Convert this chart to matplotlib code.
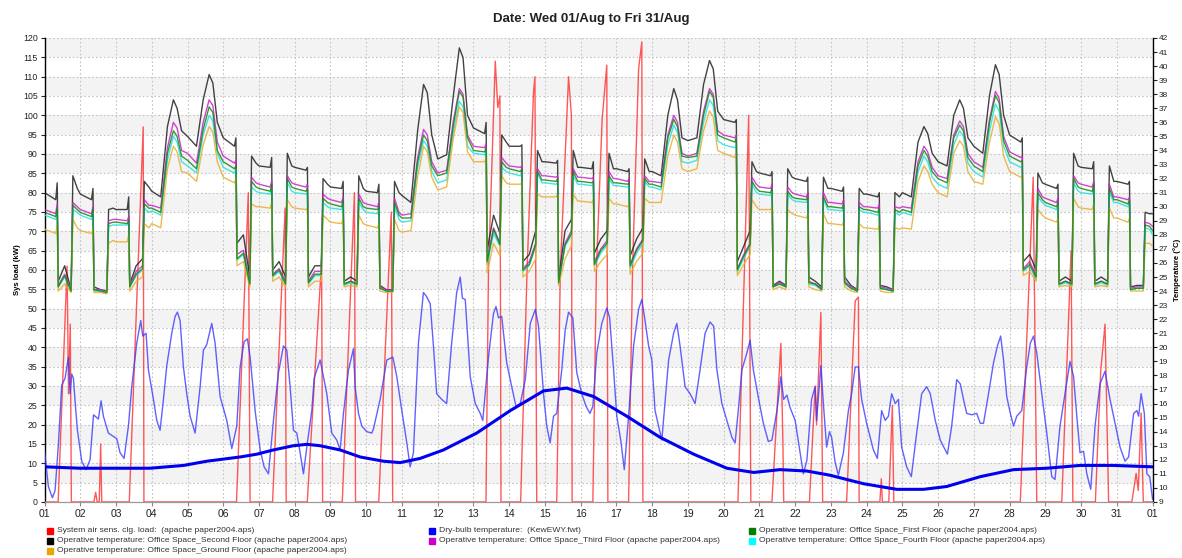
import matplotlib
matplotlib.use("Agg")
import matplotlib.pyplot as plt
from matplotlib.lines import Line2D

plt.rcParams['font.family'] = ['Liberation Sans', 'DejaVu Sans']

# ---- data ----
DAYS = ['%02d' % d for d in range(1, 32)] + ['01']
OFF_DAYS = [4, 5, 11, 12, 18, 19, 25, 26, 27]          # no cooling (weekend / bank holiday)
WEEKDAY_HOURS = [0, 7.5, 8.5, 9.2, 13.5, 17.8, 19, 22]
OFFDAY_HOURS = [0, 6, 10.5, 14.5, 17, 20]

# operative temperatures, deg C, one row per day
second_floor = [
    [31.0, 30.5, 31.7, 24.7, 25.8, 24.1, 32.2, 31.3],
    [30.9, 30.5, 31.3, 24.3, 24.1, 24.0, 29.8, 29.9],
    [29.8, 29.8, 30.7, 24.5, 25.8, 26.3, 31.8, 31.4],
    [31.1, 30.7, 35.7, 37.6, 37.0, 35.4],
    [35.0, 34.3, 37.6, 39.4, 38.8, 36.0],
    [34.9, 34.3, 34.9, 27.4, 28.0, 25.0, 33.6, 33.1],
    [32.9, 32.8, 33.5, 25.5, 26.1, 25.0, 33.8, 32.9],
    [32.8, 32.6, 32.8, 25.0, 25.8, 25.8, 32.0, 31.6],
    [31.4, 31.3, 31.8, 24.7, 25.0, 24.7, 32.2, 31.3],
    [31.1, 31.0, 31.6, 24.4, 24.1, 24.1, 31.8, 31.0],
    [30.8, 30.3, 35.4, 38.7, 38.1, 35.1],
    [33.4, 33.7, 37.9, 41.3, 40.6, 36.5],
    [35.6, 35.2, 36.0, 26.9, 29.4, 28.1, 35.1, 34.6],
    [34.3, 34.3, 34.4, 26.1, 26.6, 28.3, 34.0, 33.2],
    [33.2, 33.1, 33.3, 24.8, 28.3, 29.1, 34.0, 32.8],
    [32.8, 32.7, 33.2, 26.7, 27.7, 28.3, 33.8, 32.7],
    [32.7, 32.5, 32.7, 26.5, 27.7, 28.5, 33.4, 32.5],
    [32.5, 32.2, 36.5, 38.4, 37.6, 34.9],
    [34.7, 34.9, 38.7, 40.4, 39.8, 36.8],
    [36.2, 36.0, 36.2, 26.1, 27.2, 28.3, 33.2, 32.5],
    [32.4, 32.2, 32.5, 24.4, 24.7, 24.4, 32.7, 32.1],
    [32.0, 31.8, 32.1, 25.0, 24.7, 24.3, 32.1, 31.3],
    [31.3, 31.1, 31.4, 25.0, 24.4, 24.1, 31.3, 30.9],
    [30.9, 30.7, 31.0, 24.4, 24.3, 24.1, 31.0, 30.7],
    [31.0, 30.7, 34.6, 35.7, 35.2, 33.8],
    [33.2, 32.9, 36.5, 37.6, 37.0, 34.9],
    [34.3, 33.8, 37.9, 40.1, 39.4, 36.5],
    [35.1, 34.6, 34.9, 26.1, 26.6, 25.5, 32.4, 31.7],
    [31.6, 31.3, 31.6, 24.7, 25.0, 24.7, 33.8, 32.9],
    [32.8, 32.7, 33.2, 24.7, 25.0, 24.7, 32.9, 31.8],
    [31.8, 31.6, 31.8, 24.3, 24.4, 24.4, 29.6, 29.5],
    [29.5],
]
third_floor = [
    [29.8, 29.5, 30.2, 24.4, 25.2, 24.1, 30.3, 30.0],
    [29.8, 29.5, 30.0, 24.1, 24.1, 24.0, 29.0, 29.1],
    [29.1, 29.0, 29.3, 24.4, 25.4, 25.8, 30.5, 30.1],
    [30.1, 29.9, 34.2, 36.0, 35.6, 34.0],
    [33.8, 33.1, 36.0, 37.6, 37.2, 34.6],
    [33.6, 33.1, 33.3, 26.6, 26.9, 24.7, 32.1, 31.7],
    [31.6, 31.4, 31.8, 25.2, 25.6, 24.7, 32.2, 31.7],
    [31.6, 31.4, 31.6, 24.7, 25.4, 25.4, 30.9, 30.6],
    [30.5, 30.3, 30.7, 24.5, 24.7, 24.5, 30.9, 30.3],
    [30.2, 30.0, 30.3, 24.3, 24.1, 24.1, 30.6, 29.6],
    [29.4, 29.5, 33.5, 35.5, 35.1, 33.2],
    [32.4, 32.6, 36.1, 38.4, 38.0, 35.1],
    [34.3, 34.2, 34.5, 26.2, 28.5, 27.4, 33.5, 33.1],
    [32.9, 32.8, 32.9, 25.6, 26.1, 27.4, 32.7, 32.2],
    [32.2, 32.1, 32.2, 24.7, 27.4, 28.3, 32.7, 32.1],
    [32.1, 32.0, 32.1, 26.1, 27.0, 27.6, 32.5, 32.0],
    [32.0, 31.8, 32.0, 25.9, 27.0, 27.7, 32.2, 31.8],
    [31.8, 31.7, 35.1, 36.5, 36.0, 33.8],
    [33.6, 33.8, 36.8, 38.4, 38.0, 35.4],
    [35.1, 34.9, 35.1, 25.6, 26.6, 27.4, 32.1, 31.6],
    [31.4, 31.3, 31.6, 24.3, 24.6, 24.3, 31.4, 31.0],
    [30.9, 30.7, 31.0, 24.7, 24.5, 24.2, 31.0, 30.3],
    [30.3, 30.2, 30.5, 24.7, 24.3, 24.1, 30.3, 30.0],
    [30.0, 29.9, 30.2, 24.3, 24.2, 24.1, 30.0, 29.9],
    [30.0, 29.9, 33.2, 34.3, 33.9, 32.8],
    [32.2, 32.0, 35.1, 36.1, 35.7, 33.8],
    [33.2, 32.8, 36.2, 38.2, 37.7, 35.0],
    [33.9, 33.5, 33.6, 25.6, 26.1, 25.1, 31.3, 30.7],
    [30.6, 30.3, 30.6, 24.5, 24.7, 24.5, 32.2, 31.7],
    [31.6, 31.4, 31.8, 24.5, 24.7, 24.5, 31.6, 30.7],
    [30.7, 30.5, 30.7, 24.2, 24.3, 24.3, 28.9, 28.8],
    [28.6],
]
first_floor = [
    [29.6, 29.3, 29.9, 24.3, 25.1, 24.0, 30.1, 29.8],
    [29.6, 29.3, 29.8, 24.1, 24.0, 23.9, 28.8, 28.9],
    [28.9, 28.8, 29.0, 24.3, 25.2, 25.6, 30.2, 29.9],
    [29.9, 29.6, 33.8, 35.4, 35.0, 33.6],
    [33.3, 32.7, 35.5, 37.1, 36.7, 34.0],
    [33.2, 32.7, 32.9, 26.3, 26.7, 24.5, 31.8, 31.4],
    [31.3, 31.1, 31.6, 25.1, 25.5, 24.5, 32.0, 31.4],
    [31.3, 31.1, 31.3, 24.6, 25.2, 25.2, 30.6, 30.3],
    [30.2, 30.0, 30.5, 24.5, 24.7, 24.5, 30.6, 30.0],
    [29.9, 29.8, 30.0, 24.2, 24.0, 24.0, 30.3, 29.4],
    [29.2, 29.2, 33.2, 35.1, 34.7, 32.9],
    [32.2, 32.4, 35.8, 38.2, 37.8, 34.9],
    [34.0, 33.9, 34.2, 26.1, 28.4, 27.3, 33.2, 32.8],
    [32.7, 32.5, 32.7, 25.5, 25.9, 27.3, 32.5, 31.9],
    [31.9, 31.8, 32.0, 24.6, 27.3, 28.1, 32.5, 31.8],
    [31.8, 31.7, 31.8, 25.9, 26.9, 27.4, 32.2, 31.7],
    [31.7, 31.6, 31.7, 25.8, 26.9, 27.6, 32.0, 31.6],
    [31.6, 31.4, 34.9, 36.2, 35.7, 33.6],
    [33.5, 33.6, 36.5, 38.2, 37.8, 35.1],
    [34.9, 34.6, 34.9, 25.5, 26.5, 27.3, 31.8, 31.3],
    [31.1, 31.0, 31.3, 24.3, 24.5, 24.3, 31.1, 30.7],
    [30.6, 30.5, 30.7, 24.6, 24.5, 24.1, 30.7, 30.0],
    [30.0, 29.9, 30.2, 24.6, 24.2, 24.0, 30.0, 29.8],
    [29.8, 29.6, 29.9, 24.2, 24.1, 24.0, 29.8, 29.6],
    [29.8, 29.6, 32.9, 34.0, 33.6, 32.5],
    [32.0, 31.7, 34.9, 35.8, 35.4, 33.5],
    [32.9, 32.5, 36.0, 37.9, 37.4, 34.7],
    [33.6, 33.2, 33.3, 25.5, 25.9, 25.0, 31.0, 30.5],
    [30.3, 30.0, 30.3, 24.5, 24.7, 24.5, 32.0, 31.4],
    [31.3, 31.1, 31.6, 24.5, 24.7, 24.5, 31.3, 30.5],
    [30.5, 30.2, 30.5, 24.1, 24.2, 24.2, 28.7, 28.6],
    [28.3],
]
fourth_floor = [
    [29.4, 29.1, 29.6, 24.3, 25.0, 24.0, 29.8, 29.6],
    [29.4, 29.1, 29.6, 24.0, 24.0, 23.9, 28.6, 28.7],
    [28.7, 28.7, 28.9, 24.3, 25.1, 25.5, 29.9, 29.6],
    [29.7, 29.4, 33.3, 35.0, 34.6, 33.2],
    [32.9, 32.4, 35.1, 36.5, 36.1, 33.8],
    [32.8, 32.4, 32.7, 26.2, 26.6, 24.5, 31.4, 31.1],
    [31.0, 30.9, 31.3, 25.0, 25.4, 24.5, 31.7, 31.1],
    [31.0, 30.9, 31.0, 24.5, 25.1, 25.1, 30.3, 30.0],
    [29.9, 29.8, 30.2, 24.4, 24.6, 24.4, 30.3, 29.8],
    [29.6, 29.5, 29.8, 24.2, 24.0, 24.0, 30.0, 29.1],
    [28.9, 29.0, 32.8, 34.7, 34.3, 32.5],
    [31.7, 31.9, 35.3, 37.5, 37.1, 34.3],
    [33.8, 33.7, 34.0, 25.9, 28.1, 27.2, 32.8, 32.5],
    [32.4, 32.2, 32.4, 25.4, 25.8, 27.2, 32.4, 31.7],
    [31.7, 31.6, 31.7, 24.5, 27.2, 28.0, 32.2, 31.6],
    [31.6, 31.5, 31.6, 25.8, 26.7, 27.3, 32.0, 31.5],
    [31.5, 31.4, 31.5, 25.6, 26.7, 27.4, 31.8, 31.4],
    [31.4, 31.2, 34.4, 35.8, 35.3, 33.2],
    [33.1, 33.3, 36.0, 37.6, 37.2, 34.7],
    [34.4, 34.2, 34.4, 25.4, 26.3, 27.2, 31.6, 31.0],
    [30.9, 30.8, 31.1, 24.3, 24.5, 24.3, 30.9, 30.5],
    [30.4, 30.3, 30.5, 24.5, 24.4, 24.1, 30.5, 29.8],
    [29.8, 29.7, 30.0, 24.5, 24.2, 24.0, 29.8, 29.6],
    [29.6, 29.4, 29.7, 24.2, 24.1, 24.0, 29.6, 29.4],
    [29.6, 29.4, 32.5, 33.6, 33.2, 32.1],
    [31.6, 31.3, 34.4, 35.4, 35.0, 33.1],
    [32.5, 32.1, 35.4, 37.3, 36.8, 34.3],
    [33.2, 32.8, 32.9, 25.4, 25.8, 24.8, 30.7, 30.3],
    [30.1, 29.8, 30.1, 24.4, 24.6, 24.4, 31.7, 31.1],
    [31.0, 30.9, 31.3, 24.4, 24.6, 24.4, 31.0, 30.3],
    [30.3, 30.0, 30.3, 24.1, 24.2, 24.2, 28.5, 28.4],
    [28.0],
]
ground_floor = [
    [28.4, 28.1, 28.7, 24.0, 24.5, 23.9, 29.1, 28.5],
    [28.3, 28.1, 28.4, 23.9, 23.9, 23.8, 27.4, 27.6],
    [27.5, 27.5, 28.0, 24.0, 24.7, 25.0, 28.8, 28.5],
    [28.8, 28.5, 32.7, 34.3, 33.9, 32.5],
    [32.4, 31.8, 34.4, 35.7, 35.3, 33.2],
    [32.1, 31.7, 32.0, 25.8, 26.1, 24.3, 30.2, 30.0],
    [30.0, 29.9, 30.3, 24.7, 25.0, 24.3, 30.5, 30.0],
    [29.9, 29.8, 29.9, 24.3, 24.7, 24.7, 29.4, 29.1],
    [28.9, 28.8, 29.2, 24.3, 24.4, 24.3, 29.4, 28.8],
    [28.7, 28.5, 28.8, 24.0, 23.9, 23.9, 29.1, 28.3],
    [28.2, 28.3, 32.1, 34.3, 33.9, 32.1],
    [31.2, 31.4, 34.9, 37.1, 36.7, 33.9],
    [33.2, 33.2, 33.5, 25.3, 27.4, 26.5, 32.2, 31.7],
    [31.6, 31.6, 31.7, 25.0, 25.4, 26.3, 30.9, 30.7],
    [30.7, 30.7, 30.9, 24.4, 26.3, 27.2, 30.9, 30.4],
    [30.4, 30.3, 30.5, 25.4, 26.1, 26.6, 30.6, 30.2],
    [30.2, 30.0, 30.2, 25.2, 26.1, 26.7, 30.6, 30.3],
    [30.3, 30.3, 33.6, 35.1, 34.6, 32.7],
    [32.5, 32.7, 35.4, 36.8, 36.4, 34.0],
    [33.8, 33.5, 33.8, 25.1, 25.9, 26.6, 30.5, 30.0],
    [29.8, 29.8, 30.0, 24.1, 24.3, 24.1, 29.8, 29.5],
    [29.4, 29.2, 29.5, 24.3, 24.1, 24.0, 29.5, 28.8],
    [28.8, 28.7, 28.9, 24.3, 24.0, 23.9, 28.8, 28.5],
    [28.5, 28.4, 28.7, 24.0, 23.9, 23.9, 28.5, 28.4],
    [28.5, 28.4, 31.8, 32.9, 32.5, 31.6],
    [31.0, 30.7, 33.8, 34.7, 34.3, 32.5],
    [31.8, 31.6, 34.6, 36.4, 35.9, 33.6],
    [32.5, 32.1, 32.2, 25.1, 25.4, 24.7, 29.8, 29.4],
    [29.2, 28.9, 29.2, 24.3, 24.4, 24.3, 30.6, 30.0],
    [29.9, 29.8, 30.2, 24.3, 24.4, 24.3, 29.9, 29.2],
    [29.2, 28.9, 29.2, 24.0, 24.0, 24.0, 27.4, 27.4],
    [27.2],
]

# dry-bulb temperature (KewEWY.fwt), deg C; time in days from 01/Aug 00:00
db_t = [0.0, 0.107, 0.219, 0.294, 0.387, 0.48, 0.574, 0.667, 0.714, 0.76, 0.807, 0.853, 0.919,
        1.04, 1.16, 1.273, 1.37, 1.507, 1.581, 1.646, 1.786, 2.02, 2.113, 2.225, 2.346, 2.44,
        2.579, 2.691, 2.747, 2.84, 2.906, 3.046, 3.139, 3.232, 3.326, 3.419, 3.559, 3.652,
        3.717, 3.792, 3.885, 3.978, 4.072, 4.212, 4.352, 4.445, 4.538, 4.678, 4.771, 4.911,
        5.098, 5.238, 5.378, 5.471, 5.583, 5.676, 5.751, 5.891, 6.031, 6.143, 6.264, 6.404,
        6.544, 6.684, 6.777, 6.87, 6.964, 7.057, 7.15, 7.243, 7.337, 7.477, 7.542, 7.71,
        7.803, 7.896, 8.036, 8.176, 8.269, 8.363, 8.503, 8.643, 8.689, 8.783, 8.876, 9.016,
        9.156, 9.202, 9.389, 9.576, 9.744, 9.856, 9.995, 10.135, 10.228, 10.32, 10.46, 10.6,
        10.69, 10.79, 10.88, 10.97, 11.11, 11.25, 11.39, 11.53, 11.63, 11.69, 11.77, 11.91,
        12.05, 12.19, 12.26, 12.42, 12.56, 12.63, 12.7, 12.79, 12.93, 13.07, 13.19, 13.31,
        13.45, 13.59, 13.66, 13.73, 13.82, 13.96, 14.05, 14.145, 14.24, 14.33, 14.47, 14.565,
        14.66, 14.78, 14.89, 15.03, 15.15, 15.26, 15.34, 15.45, 15.59, 15.73, 15.81, 15.92,
        16.01, 16.12, 16.22, 16.34, 16.48, 16.62, 16.71, 16.8, 16.9, 16.99, 17.08, 17.18,
        17.27, 17.46, 17.6, 17.69, 17.78, 17.92, 18.06, 18.2, 18.34, 18.48, 18.62, 18.72,
        18.81, 18.95, 19.09, 19.23, 19.32, 19.42, 19.51, 19.65, 19.74, 19.83, 19.98, 20.11,
        20.25, 20.35, 20.49, 20.6, 20.68, 20.77, 20.86, 21.0, 21.14, 21.23, 21.33, 21.46,
        21.56, 21.6, 21.72, 21.79, 21.88, 21.96, 22.02, 22.12, 22.21, 22.35, 22.49, 22.58,
        22.68, 22.77, 22.86, 23.0, 23.19, 23.3, 23.42, 23.52, 23.61, 23.7, 23.8, 23.89,
        23.98, 24.12, 24.25, 24.4, 24.54, 24.68, 24.78, 24.92, 25.06, 25.2, 25.26, 25.38,
        25.52, 25.62, 25.71, 25.8, 25.94, 26.08, 26.18, 26.27, 26.41, 26.55, 26.66, 26.75,
        26.83, 26.92, 27.02, 27.11, 27.2, 27.34, 27.48, 27.58, 27.67, 27.76, 27.9, 28.04,
        28.18, 28.27, 28.41, 28.55, 28.69, 28.79, 28.88, 28.97, 29.07, 29.16, 29.27, 29.39,
        29.53, 29.67, 29.81, 29.95, 30.09, 30.23, 30.33, 30.47, 30.56, 30.61, 30.68, 30.77,
        30.84, 30.92, 31.0]
db_temp = [12.6, 10.1, 9.3, 9.8, 13.1, 17.3, 17.8, 19.3, 16.7, 18.1, 17.8, 16.2, 14.1,
           11.9, 11.3, 12.0, 15.2, 14.9, 16.2, 15.1, 13.9, 13.5, 12.5, 12.1, 14.4, 17.2,
           20.3, 21.9, 20.8, 21.0, 18.4, 16.3, 14.8, 14.1, 16.3, 18.7, 21.0, 22.2,
           22.5, 21.9, 18.6, 16.7, 15.1, 13.9, 17.2, 19.8, 20.2, 21.7, 20.3, 16.5,
           14.8, 12.8, 14.4, 18.6, 20.4, 20.6, 19.3, 15.5, 12.7, 11.5, 11.0, 14.8,
           18.2, 20.1, 19.8, 17.2, 14.1, 13.9, 12.5, 11.0, 12.9, 15.5, 17.8, 19.1,
           17.9, 16.7, 13.9, 13.4, 12.7, 15.3, 18.4, 19.9, 17.2, 15.3, 14.4, 14.0,
           13.9, 14.2, 16.3, 19.1, 19.3, 17.9, 15.5, 13.2, 11.5, 12.5, 20.3, 23.9,
           23.6, 23.1, 20.1, 16.7, 16.3, 16.0, 20.3, 23.9, 25.0, 23.5, 23.4, 17.9,
           16.0, 15.3, 14.8, 19.3, 22.4, 22.9, 22.1, 22.2, 18.9, 17.2, 15.8, 16.0,
           17.7, 21.7, 22.2, 22.7, 21.5, 16.7, 14.4, 13.2, 15.1, 15.3, 18.4, 21.2,
           22.5, 22.1, 18.2, 16.7, 15.8, 15.3, 15.8, 19.6, 21.7, 22.8, 22.1, 18.4,
           15.1, 13.4, 11.3, 15.1, 20.1, 22.7, 23.4, 21.9, 20.1, 19.1, 15.5, 14.4,
           13.4, 19.1, 21.0, 21.7, 20.1, 17.2, 16.7, 16.0, 18.4, 21.0, 21.8, 21.5,
           18.4, 16.0, 14.8, 13.6, 13.2, 15.8, 18.4, 19.6, 20.5, 18.4, 16.3, 14.6,
           13.3, 13.4, 15.5, 17.9, 16.3, 16.6, 15.7, 14.8, 12.5, 11.0, 12.0, 16.3,
           17.2, 14.8, 18.7, 16.0, 12.9, 14.0, 13.6, 11.8, 10.9, 12.5, 15.5, 16.7,
           18.6, 18.6, 16.3, 14.6, 12.7, 12.1, 15.5, 14.8, 15.1, 16.7, 16.0, 16.3,
           12.9, 11.5, 10.8, 13.9, 16.7, 17.2, 16.7, 14.8, 13.4, 12.7, 12.4, 14.4,
           17.7, 17.4, 16.3, 15.3, 15.2, 15.3, 14.6, 14.6, 16.7, 18.9, 20.1, 20.8,
           19.1, 16.5, 15.3, 14.4, 15.1, 15.5, 18.6, 20.3, 20.8, 19.6, 16.7, 13.9,
           10.8, 10.6, 14.4, 16.7, 19.0, 17.9, 15.1, 12.5, 12.6, 11.0, 9.9, 14.4,
           17.4, 18.3, 16.3, 14.6, 12.9, 11.9, 12.2, 15.3, 15.5, 15.1, 16.7, 15.3,
           11.0, 10.8, 9.2]

# smooth (bold) dry-bulb trend line, deg C
trend_t = [0, 1.0, 2.0, 2.95, 3.89, 4.54, 5.47, 5.94, 6.4, 6.96, 7.34, 7.71, 8.27, 8.83,
           9.48, 9.95, 10.51, 11.16, 12.09, 13.03, 13.96, 14.61, 15.36, 16.29, 17.22, 18.16,
           19.09, 19.84, 20.58, 21.33, 21.98, 22.91, 23.84, 24.59, 25.24, 26.18, 27.11, 28.04,
           28.97, 29.9, 31.0]
trend_temp = [11.5, 11.4, 11.4, 11.4, 11.6, 11.9, 12.2, 12.4, 12.7, 13.0, 13.1, 13.0, 12.7, 12.2,
              11.9, 11.8, 12.1, 12.7, 13.9, 15.5, 16.9, 17.1, 16.5, 15.1, 13.6, 12.4,
              11.4, 11.1, 11.3, 11.2, 10.9, 10.3, 9.9, 9.9, 10.1, 10.8, 11.3, 11.4,
              11.6, 11.6, 11.5]

# system air sensible cooling load, kW
load_t = [0, 0.38, 0.63, 0.67, 0.72, 0.75,
          1.38, 1.43, 1.47, 1.53, 1.57, 1.6,
          2.37, 2.76, 2.78,
          5.37, 5.7, 5.75,
          6.38, 6.73, 6.76,
          7.35, 7.6, 7.75, 7.78,
          8.33, 8.67, 8.7,
          9.35, 9.7, 9.74,
          12.35, 12.42, 12.61, 12.68, 12.74, 12.77,
          13.32, 13.5, 13.68, 13.72, 13.77,
          14.33, 14.43, 14.66, 14.74, 14.76,
          15.34, 15.44, 15.6, 15.73, 15.76,
          16.34, 16.45, 16.62, 16.71, 16.74,
          19.4, 19.7, 19.76,
          20.35, 20.6, 20.66, 20.68,
          21.4, 21.56, 21.6, 21.72, 21.77,
          22.44, 22.68, 22.77, 22.79,
          23.37, 23.41, 23.44, 23.62, 23.72, 23.76,
          27.3, 27.66, 27.76,
          28.46, 28.72, 28.77,
          29.4, 29.55, 29.67, 29.77,
          30.42, 30.54, 30.6, 30.68, 30.74, 31.0]
load_kw = [0, 0, 61, 28, 46, 0,
           0, 2.5, 0, 0, 15, 0,
           0, 97, 0,
           0, 80, 0,
           0, 76, 0,
           0, 39, 62, 0,
           0, 80, 0,
           0, 75, 0,
           0, 60, 114, 102, 105, 0,
           0, 60, 106, 110, 0,
           0, 60, 110, 100, 0,
           0, 60, 99, 113, 0,
           0, 60, 112, 119, 0,
           0, 100, 0,
           0, 41, 14, 0,
           0, 30, 20, 49, 0,
           0, 52, 53, 0,
           0, 6, 0, 0, 25, 0,
           0, 84, 0,
           0, 65, 0,
           0, 34, 46, 0,
           0, 7.4, 3, 23, 0, 0]

# ---- build the time base for the floor temperatures ----
floor_t = []
for d in range(1, 32):
    hrs = OFFDAY_HOURS if d in OFF_DAYS else WEEKDAY_HOURS
    floor_t += [d - 1 + h / 24 for h in hrs]
floor_t.append(31)


def flat(rows):
    return [v for r in rows for v in r]


# ---- figure ----
fig = plt.figure(figsize=(11.82, 5.58), dpi=100)
ax = fig.add_axes([0.0377, 0.1004, 0.9374, 0.8315])
ax2 = ax.twinx()

for k in range(5, 120, 10):
    ax.axhspan(k, k + 5, color='#f3f3f3', lw=0, zorder=0)

ax.plot(load_t, load_kw, color='#ff2020', lw=1.0, alpha=0.75, zorder=3)

ax2.plot(db_t, db_temp, color='#3a3aff', lw=1.0, alpha=0.8, zorder=2)
ax2.plot(floor_t, flat(second_floor), color='#222222', lw=1.0, alpha=0.85, zorder=3)
ax2.plot(floor_t, flat(third_floor), color='#cc22cc', lw=1.0, alpha=0.85, zorder=3)
ax2.plot(floor_t, flat(fourth_floor), color='#22e0e0', lw=1.0, alpha=0.85, zorder=3)
ax2.plot(floor_t, flat(ground_floor), color='#e8ae30', lw=1.0, alpha=0.85, zorder=3)
ax2.plot(floor_t, flat(first_floor), color='#128a12', lw=1.0, alpha=0.85, zorder=3)
ax2.plot(trend_t, trend_temp, color='#0000ee', lw=2.2, zorder=4)

ax.set_xlim(0, 31)
ax.set_ylim(0, 120)
ax2.set_ylim(9, 42)

ax.set_xticks(range(32))
ax.set_xticklabels(DAYS)
ax.set_yticks(range(0, 121, 5))
ax2.set_yticks(range(9, 43))
ax.grid(True, linestyle=(0, (1.5, 2)), color='#c4c4c4', lw=0.8)
ax.set_axisbelow(True)

ax.tick_params(axis='y', labelsize=6.3, length=3, width=0.8, colors='#222222', pad=2)
ax2.tick_params(axis='y', labelsize=6, length=3, width=0.8, colors='#222222', pad=1.5)
ax.tick_params(axis='x', labelsize=7.5, length=3, color='#888888', labelcolor='#222222', pad=2)

for a in (ax, ax2):
    a.spines['top'].set_visible(False)
    a.spines['bottom'].set_color('#999999')
ax.spines['right'].set_visible(False)
ax2.spines['left'].set_visible(False)
ax.spines['left'].set_linewidth(1.0)
ax2.spines['right'].set_linewidth(1.0)

fig.text(0.5, 0.966, 'Date: Wed 01/Aug to Fri 31/Aug', ha='center', va='center',
         fontsize=9.5, fontweight='bold', color='#222222')
fig.text(0.0145, 0.516, 'Sys load (kW)', rotation=90, ha='center', va='center',
         fontsize=5.6, fontweight='bold')
fig.text(1177 / 1182, 0.516, 'Temperature (°C)', rotation=90, ha='center', va='center',
         fontsize=5.6, fontweight='bold')

# legend, three columns under the plot
legend_items = [
    (0, 0, '#ff0000', 'System air sens. clg. load:  (apache paper2004.aps)'),
    (1, 0, '#0000ff', 'Dry-bulb temperature:  (KewEWY.fwt)'),
    (2, 0, '#008000', 'Operative temperature: Office Space_First Floor (apache paper2004.aps)'),
    (0, 1, '#000000', 'Operative temperature: Office Space_Second Floor (apache paper2004.aps)'),
    (1, 1, '#cc00cc', 'Operative temperature: Office Space_Third Floor (apache paper2004.aps)'),
    (2, 1, '#00ffff', 'Operative temperature: Office Space_Fourth Floor (apache paper2004.aps)'),
    (0, 2, '#e6a800', 'Operative temperature: Office Space_Ground Floor (apache paper2004.aps)'),
]
col_x = [50, 432, 752]
row_y = [531, 541, 551]
W, H = 1182, 558
for col, row, c, label in legend_items:
    x = col_x[col] / W
    y = 1 - row_y[row] / H
    fig.add_artist(Line2D([x], [y], marker='s', markersize=3.8, color=c, ls='',
                          transform=fig.transFigure))
    fig.text(x + 7 / W, y, label, ha='left', va='center', fontsize=6.1, color='#333333')

fig.savefig('out.png', dpi=100)
